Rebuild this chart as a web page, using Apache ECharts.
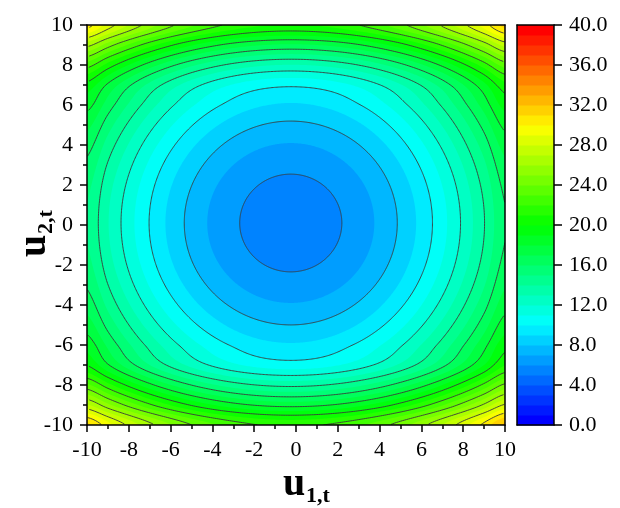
<!DOCTYPE html>
<html><head><meta charset="utf-8">
<script src="https://cdn.jsdelivr.net/npm/echarts@6/dist/echarts.min.js"></script>
<style>html,body{margin:0;padding:0;background:#fff}#chart{width:620px;height:508px}</style>
</head><body><div id="chart"></div>
<script>
// ---------- data ----------
const u1Values = [-10,-9,-8,-7,-6,-5,-4,-3,-2,-1,0,1,2,3,4,5,6,7,8,9,10];
const u2Values = [-10,-9,-8,-7,-6,-5,-4,-3,-2,-1,0,1,2,3,4,5,6,7,8,9,10];
// zValues[j][i] : value at u2 = u2Values[j], u1 = u1Values[i]
const zValues = [
  [31.27,29.42,27.77,26.32,25.07,24.02,23.17,22.52,22.07,21.82,21.77,21.92,22.27,22.82,23.57,24.52,25.67,27.02,28.57,30.32,32.27],
  [27.15,25.30,23.65,22.20,20.95,19.90,19.05,18.40,17.95,17.70,17.65,17.80,18.15,18.70,19.45,20.40,21.55,22.90,24.45,26.20,28.15],
  [23.23,21.38,19.73,18.28,17.03,15.98,15.13,14.48,14.03,13.78,13.73,13.88,14.23,14.78,15.53,16.48,17.63,18.98,20.53,22.28,24.23],
  [19.95,18.10,16.45,15.00,13.75,12.70,11.85,11.20,10.75,10.50,10.45,10.60,10.95,11.50,12.25,13.20,14.35,15.70,17.25,19.00,20.95],
  [18.63,16.78,15.13,13.68,12.43,11.38,10.53,9.88,9.43,9.18,9.13,9.28,9.63,10.18,10.93,11.88,13.03,14.38,15.93,17.68,19.63],
  [17.51,15.66,14.01,12.56,11.31,10.26,9.41,8.76,8.31,8.06,8.01,8.16,8.51,9.06,9.81,10.76,11.91,13.26,14.81,16.56,18.51],
  [16.59,14.74,13.09,11.64,10.39,9.34,8.49,7.84,7.39,7.14,7.09,7.24,7.59,8.14,8.89,9.84,10.99,12.34,13.89,15.64,17.59],
  [15.87,14.02,12.37,10.92,9.67,8.62,7.77,7.12,6.67,6.42,6.37,6.52,6.87,7.42,8.17,9.12,10.27,11.62,13.17,14.92,16.87],
  [15.35,13.50,11.85,10.40,9.15,8.10,7.25,6.60,6.15,5.90,5.85,6.00,6.35,6.90,7.65,8.60,9.75,11.10,12.65,14.40,16.35],
  [15.03,13.18,11.53,10.08,8.83,7.78,6.93,6.28,5.83,5.58,5.53,5.68,6.03,6.58,7.33,8.28,9.43,10.78,12.33,14.08,16.03],
  [14.91,13.06,11.41,9.96,8.71,7.66,6.81,6.16,5.71,5.46,5.41,5.56,5.91,6.46,7.21,8.16,9.31,10.66,12.21,13.96,15.91],
  [14.99,13.14,11.49,10.04,8.79,7.74,6.89,6.24,5.79,5.54,5.49,5.64,5.99,6.54,7.29,8.24,9.39,10.74,12.29,14.04,15.99],
  [15.27,13.42,11.77,10.32,9.07,8.02,7.17,6.52,6.07,5.82,5.77,5.92,6.27,6.82,7.57,8.52,9.67,11.02,12.57,14.32,16.27],
  [15.75,13.90,12.25,10.80,9.55,8.50,7.65,7.00,6.55,6.30,6.25,6.40,6.75,7.30,8.05,9.00,10.15,11.50,13.05,14.80,16.75],
  [16.43,14.58,12.93,11.48,10.23,9.18,8.33,7.68,7.23,6.98,6.93,7.08,7.43,7.98,8.73,9.68,10.83,12.18,13.73,15.48,17.43],
  [17.31,15.46,13.81,12.36,11.11,10.06,9.21,8.56,8.11,7.86,7.81,7.96,8.31,8.86,9.61,10.56,11.71,13.06,14.61,16.36,18.31],
  [18.39,16.54,14.89,13.44,12.19,11.14,10.29,9.64,9.19,8.94,8.89,9.04,9.39,9.94,10.69,11.64,12.79,14.14,15.69,17.44,19.39],
  [19.67,17.82,16.17,14.72,13.47,12.42,11.57,10.92,10.47,10.22,10.17,10.32,10.67,11.22,11.97,12.92,14.07,15.42,16.97,18.72,20.67],
  [22.47,20.62,18.97,17.52,16.27,15.22,14.37,13.72,13.27,13.02,12.97,13.12,13.47,14.02,14.77,15.72,16.87,18.22,19.77,21.52,23.47],
  [26.35,24.50,22.85,21.40,20.15,19.10,18.25,17.60,17.15,16.90,16.85,17.00,17.35,17.90,18.65,19.60,20.75,22.10,23.65,25.40,27.35],
  [30.43,28.58,26.93,25.48,24.23,23.18,22.33,21.68,21.23,20.98,20.93,21.08,21.43,21.98,22.73,23.68,24.83,26.18,27.73,29.48,31.43]
];
const contourLevels = [6,8,10,12,14,16,18,20,22,24,26,28,30];
const colorbarBands = [0,1,2,3,4,5,6,7,8,9,10,11,12,13,14,15,16,17,18,19,20,21,22,23,24,25,26,27,28,29,30,31,32,33,34,35,36,37,38,39];
const colorbarTicks = [0,4,8,12,16,20,24,28,32,36,40];
const axisTicks = [-10,-8,-6,-4,-2,0,2,4,6,8,10];

// ---------- colours ----------
const paletteStops = [[0,0,255],[0,255,255],[0,255,0],[255,255,0],[255,0,0]];
const nBands = colorbarBands.length;
function bandColor(i){
  i = Math.max(0, Math.min(nBands-1, i));
  const t = i/(nBands-1)*(paletteStops.length-1);
  const s = Math.min(paletteStops.length-2, Math.floor(t)), f = t - s;
  const a = paletteStops[s], b = paletteStops[s+1];
  const c = a.map((v,k)=>Math.round(v+(b[k]-v)*f));
  return 'rgb('+c.join(',')+')';
}

// ---------- contour geometry from the grid (smooth surface through the grid values) ----------
const gx0 = u1Values[0], gx1 = u1Values[u1Values.length-1];
const gy0 = u2Values[0], gy1 = u2Values[u2Values.length-1];
const gdx = u1Values[1]-u1Values[0], gdy = u2Values[1]-u2Values[0];
const nX = u1Values.length, nY = u2Values.length;
function cr(p0,p1,p2,p3,t){ return p1+0.5*t*(p2-p0+t*(2*p0-5*p1+4*p2-p3+t*(3*(p1-p2)+p3-p0))); }
function clampI(v,n){ return v<0?0:(v>n-1?n-1:v); }
function zAt(x,y){
  const fi=(x-gx0)/gdx, fj=(y-gy0)/gdy;
  const i=Math.min(Math.max(Math.floor(fi),0),nX-2);
  const j=Math.min(Math.max(Math.floor(fj),0),nY-2);
  const tx=Math.min(Math.max(fi-i,0),1), ty=Math.min(Math.max(fj-j,0),1);
  const col=[];
  for(let m=-1;m<=2;m++){
    const r=zValues[clampI(j+m,nY)];
    col.push(cr(r[clampI(i-1,nX)],r[i],r[i+1],r[clampI(i+2,nX)],tx));
  }
  return cr(col[0],col[1],col[2],col[3],ty);
}
let sI=0,sJ=0,zMin=Infinity,zMax=-Infinity;
zValues.forEach((row,j)=>row.forEach((v,i)=>{ if(v<zMin){zMin=v;sI=i;sJ=j;} if(v>zMax) zMax=v; }));
const sx=u1Values[sI], sy=u2Values[sJ];
const LMIN=Math.floor(zMin)+1, LMAX=Math.floor(zMax);
const NA=720, STEP=0.02;
const ringPts={}, ringEdge={};
for(let L=LMIN;L<=LMAX;L++){ringPts[L]=[];ringEdge[L]=[];}
for(let k=0;k<NA;k++){
  const a=2*Math.PI*k/NA, cx=Math.cos(a), cy=Math.sin(a);
  let tExit=Infinity;
  if(cx>1e-12) tExit=Math.min(tExit,(gx1-sx)/cx); else if(cx<-1e-12) tExit=Math.min(tExit,(gx0-sx)/cx);
  if(cy>1e-12) tExit=Math.min(tExit,(gy1-sy)/cy); else if(cy<-1e-12) tExit=Math.min(tExit,(gy0-sy)/cy);
  const hit={};
  let t=0, zp=zAt(sx,sy);
  while(t<tExit){
    const t2=Math.min(t+STEP,tExit);
    const z2=zAt(sx+cx*t2,sy+cy*t2);
    if(z2>zp){
      const La=Math.max(LMIN,Math.floor(zp)+1), Lb=Math.min(LMAX,Math.floor(z2));
      for(let L=La;L<=Lb;L++){ if(hit[L]===undefined) hit[L]=t+(L-zp)/(z2-zp)*(t2-t); }
    }
    t=t2; zp=Math.max(zp,z2);
  }
  for(let L=LMIN;L<=LMAX;L++){
    const onEdge=hit[L]===undefined;
    const tt=onEdge?tExit:hit[L];
    ringPts[L].push([sx+cx*tt,sy+cy*tt]);
    ringEdge[L].push(onEdge);
  }
}
function ringSegments(L){
  const pts=ringPts[L], edge=ringEdge[L], n=pts.length;
  const start=edge.indexOf(true);
  if(start<0) return [pts.concat([pts[0]])];
  const segs=[]; let cur=[];
  for(let m=1;m<=n;m++){
    const k=(start+m)%n;
    if(!edge[k]) cur.push(pts[k]); else { if(cur.length>1) segs.push(cur); cur=[]; }
  }
  if(cur.length>1) segs.push(cur);
  return segs;
}
const fillData=[]; for(let L=LMAX+1;L>=LMIN;L--) fillData.push([L]);
const lineData=contourLevels.filter(L=>L>=LMIN&&L<=LMAX).map(L=>[L]);

// ---------- chart ----------
const chart=echarts.init(document.getElementById('chart'),null,{renderer:'canvas'});
const SERIF='"Liberation Serif","Times New Roman",serif';
const black='#000';
function frameAxis(gridIndex,position,extra){
  return Object.assign({gridIndex,type:'value',position,z:10,
    axisLine:{show:true,onZero:false,lineStyle:{color:black,width:1.5}},
    axisTick:{show:false},axisLabel:{show:false},splitLine:{show:false}},extra||{});
}
const option={
  animation:false,
  backgroundColor:'#fff',
  grid:[
    {left:87,top:25,width:418,height:400,outerBoundsMode:'none'},
    {left:517,top:25,width:37,height:400,outerBoundsMode:'none'}
  ],
  xAxis:[
    {gridIndex:0,type:'value',min:axisTicks[0],max:axisTicks[axisTicks.length-1],interval:axisTicks[1]-axisTicks[0],position:'bottom',z:10,
     axisLine:{show:true,onZero:false,lineStyle:{color:black,width:1.5}},
     axisTick:{show:true,length:7,lineStyle:{color:black,width:1.5}},
     minorTick:{show:true,splitNumber:2,length:4,lineStyle:{color:black,width:1.5}},
     axisLabel:{show:true,margin:14,color:black,fontSize:22,fontFamily:SERIF,showMinLabel:true,showMaxLabel:true},
     splitLine:{show:false},minorSplitLine:{show:false}},
    frameAxis(0,'top',{min:-10,max:10}),
    frameAxis(1,'bottom',{min:0,max:1}),
    frameAxis(1,'top',{min:0,max:1})
  ],
  yAxis:[
    {gridIndex:0,type:'value',min:axisTicks[0],max:axisTicks[axisTicks.length-1],interval:axisTicks[1]-axisTicks[0],position:'left',z:10,
     axisLine:{show:true,onZero:false,lineStyle:{color:black,width:1.5}},
     axisTick:{show:true,length:7,lineStyle:{color:black,width:1.5}},
     minorTick:{show:true,splitNumber:2,length:4,lineStyle:{color:black,width:1.5}},
     axisLabel:{show:true,margin:14,color:black,fontSize:22,fontFamily:SERIF,showMinLabel:true,showMaxLabel:true},
     splitLine:{show:false},minorSplitLine:{show:false}},
    frameAxis(0,'right',{min:-10,max:10}),
    {gridIndex:1,type:'value',min:colorbarTicks[0],max:colorbarTicks[colorbarTicks.length-1],interval:colorbarTicks[1]-colorbarTicks[0],position:'right',z:10,
     axisLine:{show:true,onZero:false,lineStyle:{color:black,width:1.5}},
     axisTick:{show:true,length:8,lineStyle:{color:black,width:1.5}},
     axisLabel:{show:true,margin:15,color:black,fontSize:22,fontFamily:SERIF,formatter:v=>v.toFixed(1),showMinLabel:true,showMaxLabel:true},
     splitLine:{show:false}},
    frameAxis(1,'left',{min:0,max:40})
  ],
  series:[
    {type:'custom',xAxisIndex:0,yAxisIndex:0,clip:true,silent:true,data:fillData,
     renderItem:(params,api)=>{
       const L=api.value(0);
       if(L>LMAX){
         const p0=api.coord([gx0,gy1]), p1=api.coord([gx1,gy0]);
         return {type:'rect',z2:0,shape:{x:p0[0],y:p0[1],width:p1[0]-p0[0],height:p1[1]-p0[1]},style:{fill:bandColor(LMAX)}};
       }
       const pts=ringPts[L].map(p=>api.coord(p));
       return {type:'polygon',z2:200-L,shape:{points:pts},style:{fill:bandColor(L-1)}};
     }},
    {type:'custom',xAxisIndex:0,yAxisIndex:0,clip:true,silent:true,z:3,data:lineData,
     renderItem:(params,api)=>{
       const L=api.value(0);
       const segs=ringSegments(L);
       return {type:'group',children:segs.map(s=>({type:'polyline',shape:{points:s.map(p=>api.coord(p))},
         style:{stroke:'#3a3a3a',lineWidth:0.9,fill:null}}))};
     }},
    {type:'custom',xAxisIndex:2,yAxisIndex:2,silent:true,data:colorbarBands.map(b=>[b]),
     renderItem:(params,api)=>{
       const b=api.value(0);
       const p0=api.coord([0,b+1]), p1=api.coord([1,b]);
       return {type:'rect',shape:{x:p0[0],y:p0[1],width:p1[0]-p0[0],height:p1[1]-p0[1]+0.5},style:{fill:bandColor(b)}};
     }}
  ],
  graphic:[
    {type:'group',x:283,y:485,children:[
      {type:'text',x:0,y:0,style:{text:'u',font:'bold 40px '+SERIF,fill:black,align:'left',verticalAlign:'middle'}},
      {type:'text',x:23,y:11,style:{text:'1,t',font:'bold 22px '+SERIF,fill:black,align:'left',verticalAlign:'middle'}}
    ]},
    {type:'group',x:35,y:257,rotation:Math.PI/2,children:[
      {type:'text',x:0,y:0,style:{text:'u',font:'bold 40px '+SERIF,fill:black,align:'left',verticalAlign:'middle'}},
      {type:'text',x:23,y:11,style:{text:'2,t',font:'bold 22px '+SERIF,fill:black,align:'left',verticalAlign:'middle'}}
    ]}
  ]
};
chart.setOption(option);
</script></body></html>
